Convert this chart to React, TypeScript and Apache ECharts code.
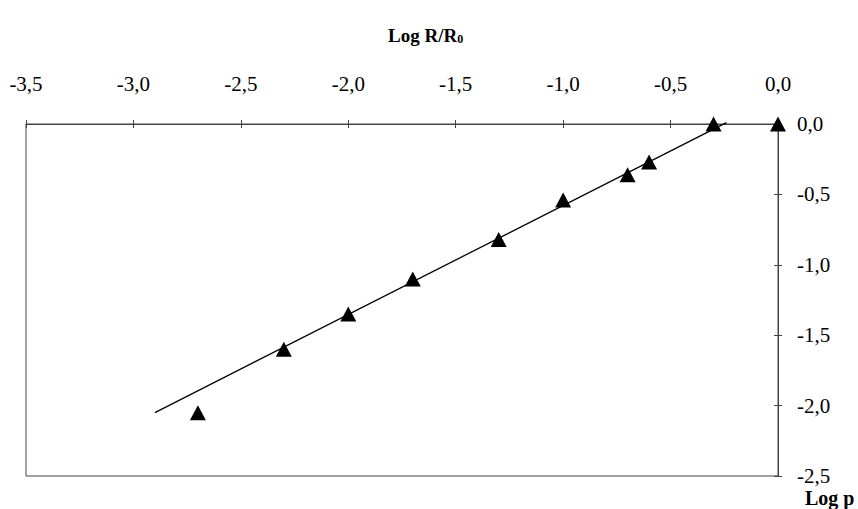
import React, { useEffect, useRef } from "react";
import * as echarts from "echarts";

const xTicks = [-3.5, -3.0, -2.5, -2.0, -1.5, -1.0, -0.5, 0.0];
const yTicks = [-2.5, -2.0, -1.5, -1.0, -0.5, 0.0];
const logR = [-2.7, -2.3, -2.0, -1.7, -1.3, -1.0, -0.7, -0.6, -0.3, 0.0];
const logP = [-2.05, -1.6, -1.35, -1.1, -0.82, -0.54, -0.36, -0.27, 0.0, 0.0];
const fitX = [-2.9, -0.24];
const fitY = [-2.05, 0.01];

const fmt = (v: number) => v.toFixed(1).replace(".", ",");
const FONT = "'Liberation Serif', 'DejaVu Serif', serif";
const lineColor = "#444";

const baseX = {
  type: "value",
  position: "top",
  min: xTicks[0],
  max: xTicks[xTicks.length - 1],
  interval: 0.5,
  splitLine: { show: false },
};
const baseY = {
  type: "value",
  position: "right",
  min: yTicks[0],
  max: yTicks[yTicks.length - 1],
  interval: 0.5,
  splitLine: { show: false },
};

export default function App() {
  const ref = useRef<HTMLDivElement>(null);
  useEffect(() => {
    if (!ref.current) return;
    const chart = echarts.init(ref.current, null, { renderer: "svg" });
    chart.setOption({
      animation: false,
      backgroundColor: "#fff",
      textStyle: { fontFamily: FONT },
      title: {
        text: "Log R/R{sub|0}",
        left: 383,
        top: 20,
        textStyle: {
          fontFamily: FONT,
          fontWeight: "bold",
          fontSize: 19,
          color: "#000",
          rich: {
            sub: { fontFamily: FONT, fontWeight: "bold", fontSize: 12, verticalAlign: "bottom", padding: [8, 0, 0, 0], color: "#000" },
          },
        },
      },
      graphic: [
        {
          type: "text",
          left: 805,
          top: 488,
          style: { text: "Log p", font: `bold 20px ${FONT}`, fill: "#000" },
        },
      ],
      grid: {
        left: 26,
        right: 80,
        top: 124,
        bottom: 33,
        show: true,
        borderColor: lineColor,
        borderWidth: 1,
        containLabel: false,
      },
      xAxis: [
        {
          ...baseX,
          axisLine: { show: true, onZero: false, lineStyle: { color: lineColor, width: 1 } },
          axisTick: { show: true, inside: false, length: 4, lineStyle: { color: lineColor } },
          axisLabel: {
            margin: 30,
            fontFamily: FONT,
            fontSize: 21,
            color: "#000",
            formatter: (v: number) => fmt(v),
          },
        },
        {
          ...baseX,
          axisLine: { show: false, onZero: false },
          axisTick: { show: true, inside: true, length: 4, lineStyle: { color: lineColor } },
          axisLabel: { show: false },
        },
      ],
      yAxis: [
        {
          ...baseY,
          axisLine: { show: true, onZero: false, lineStyle: { color: lineColor, width: 1 } },
          axisTick: { show: true, inside: false, length: 4, lineStyle: { color: lineColor } },
          axisLabel: {
            margin: 19,
            fontFamily: FONT,
            fontSize: 21,
            color: "#000",
            formatter: (v: number) => fmt(v),
          },
        },
        {
          ...baseY,
          axisLine: { show: false, onZero: false },
          axisTick: { show: true, inside: true, length: 4, lineStyle: { color: lineColor } },
          axisLabel: { show: false },
        },
      ],
      series: [
        {
          type: "line",
          data: fitX.map((x, i) => [x, fitY[i]]),
          showSymbol: false,
          symbol: "none",
          lineStyle: { color: "#000", width: 1.3 },
          clip: false,
          z: 2,
        },
        {
          type: "scatter",
          data: logR.map((x, i) => [x, logP[i]]),
          symbol: "triangle",
          symbolSize: [16, 15],
          itemStyle: { color: "#000", opacity: 1 },
          clip: false,
          z: 3,
        },
      ],
    });
    return () => chart.dispose();
  }, []);
  return <div ref={ref} style={{ width: 858, height: 509, position: "absolute", left: 0, top: 0 }} />;
}
